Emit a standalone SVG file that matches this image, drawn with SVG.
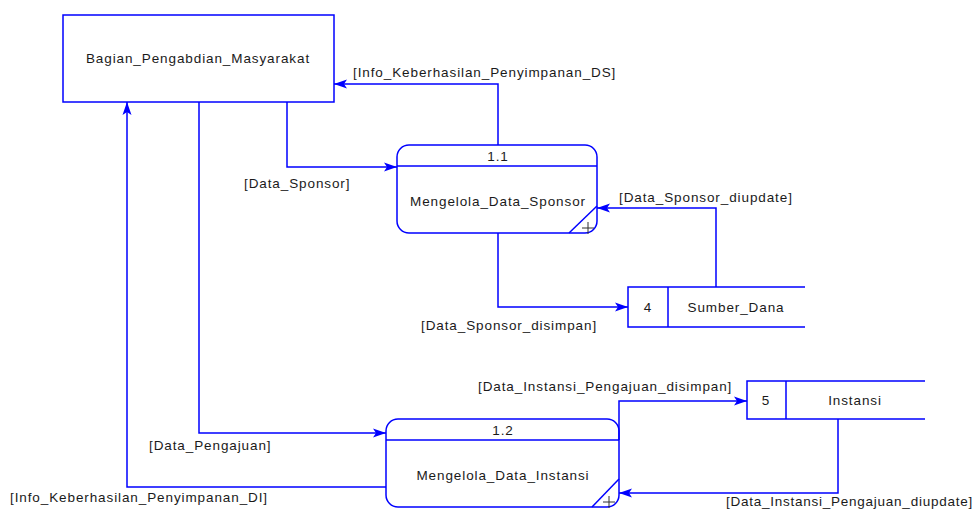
<svg xmlns="http://www.w3.org/2000/svg" width="976" height="511" viewBox="0 0 976 511">
  <style>
    .shape { fill: #ffffff; stroke: #0000ff; stroke-width: 1.5; }
    .line { fill: none; stroke: #0000ff; stroke-width: 1.5; }
    .plus { fill: none; stroke: #333333; stroke-width: 1; }
    .flow { fill: none; stroke: #0000ff; stroke-width: 1.5; marker-end: url(#arrow); }
    text { font-family: "Liberation Sans", Arial, sans-serif; font-size: 13.5px; letter-spacing: 0.9px; fill: #1a1a1a; }
    .mid { text-anchor: middle; }
  </style>
  <defs>
    <marker id="arrow" markerWidth="14" markerHeight="10" refX="13" refY="5" orient="auto" markerUnits="userSpaceOnUse">
      <path d="M0,0.5 L13,5 L0,9.5 L3,5 Z" fill="#0000ff"/>
    </marker>
  </defs>

  <rect width="976" height="511" fill="#ffffff"/>

  <!-- external entity -->
  <g id="bagian-pengabdian">
    <rect class="shape" x="63" y="15" width="271" height="87"/>
    <text class="mid" x="198" y="63">Bagian_Pengabdian_Masyarakat</text>
  </g>

  <!-- process 1.1 -->
  <g id="proses-1-1">
    <rect class="shape" x="397" y="145" width="200" height="88" rx="12" ry="12"/>
    <line class="line" x1="397" y1="166" x2="597" y2="166"/>
    <line class="line" x1="569" y1="233" x2="597" y2="206"/>
    <path class="plus" d="M582,228 h12 M588,222 v12"/>
    <text class="mid" x="498" y="161">1.1</text>
    <text class="mid" x="498" y="206">Mengelola_Data_Sponsor</text>
  </g>

  <!-- process 1.2 -->
  <g id="proses-1-2">
    <rect class="shape" x="386" y="419" width="233" height="88" rx="12" ry="12"/>
    <line class="line" x1="386" y1="440" x2="619" y2="440"/>
    <line class="line" x1="592" y1="507" x2="619" y2="479"/>
    <path class="plus" d="M603,502 h12 M609,496 v12"/>
    <text class="mid" x="503" y="435">1.2</text>
    <text class="mid" x="503" y="480">Mengelola_Data_Instansi</text>
  </g>

  <!-- data store 4 -->
  <g id="store-sumber-dana">
    <path class="line" d="M805,287 H628 V327 H805 M668,287 V327"/>
    <text class="mid" x="648" y="312">4</text>
    <text class="mid" x="736" y="312">Sumber_Dana</text>
  </g>

  <!-- data store 5 -->
  <g id="store-instansi">
    <path class="line" d="M925,381 H747 V419 H925 M786,381 V419"/>
    <text class="mid" x="766" y="405">5</text>
    <text class="mid" x="855" y="405">Instansi</text>
  </g>

  <!-- data flows -->
  <g id="connectors">
    <path class="flow" d="M287,102 V167 H397"/>
    <path class="flow" d="M498,145 V84 H334"/>
    <path class="flow" d="M716,287 V208 H597"/>
    <path class="flow" d="M498,233 V307 H628"/>
    <path class="flow" d="M619,440 V401 H747"/>
    <path class="flow" d="M838,419 V493 H619"/>
    <path class="flow" d="M199,102 V433 H386"/>
    <path class="flow" d="M386,487 H127 V102"/>

    <text x="353" y="77">[Info_Keberhasilan_Penyimpanan_DS]</text>
    <text x="244" y="188">[Data_Sponsor]</text>
    <text x="619" y="202">[Data_Sponsor_diupdate]</text>
    <text x="421" y="330">[Data_Sponsor_disimpan]</text>
    <text x="478" y="391">[Data_Instansi_Pengajuan_disimpan]</text>
    <text x="149" y="450">[Data_Pengajuan]</text>
    <text x="10" y="502">[Info_Keberhasilan_Penyimpanan_DI]</text>
    <text x="726" y="506" style="letter-spacing:0.75px">[Data_Instansi_Pengajuan_diupdate]</text>
  </g>
</svg>
